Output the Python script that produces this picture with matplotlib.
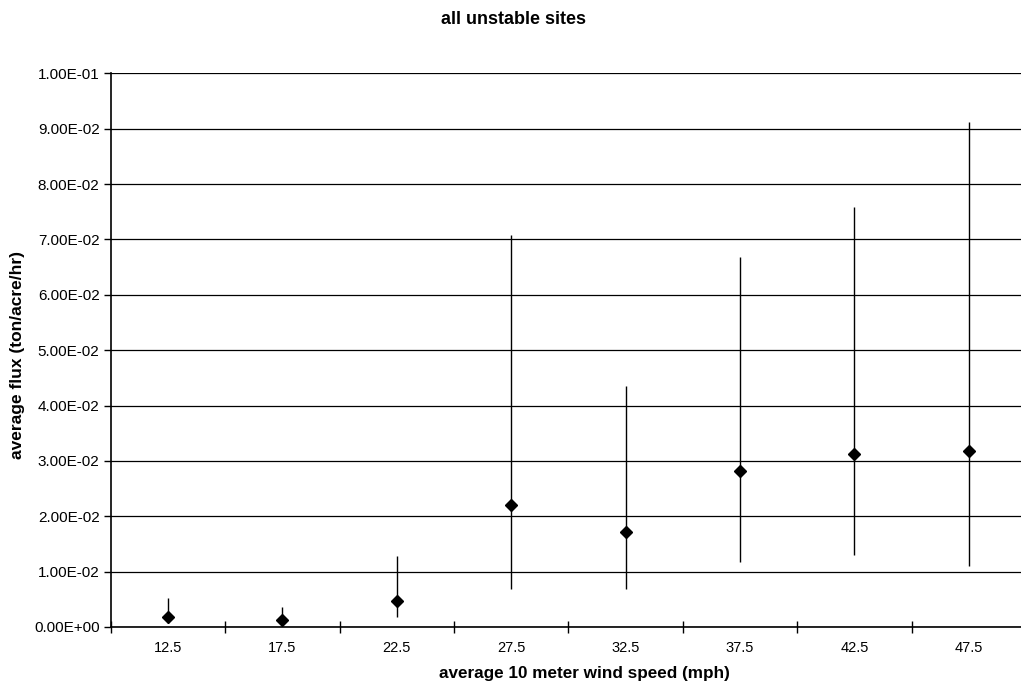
import numpy as np
import matplotlib
matplotlib.use("Agg")
import matplotlib.pyplot as plt
from matplotlib.ticker import FixedLocator, FuncFormatter

# wind speed bins and flux stats
speeds = ["12.5", "17.5", "22.5", "27.5", "32.5", "37.5", "42.5", "47.5"]
flux_mean = [0.0018, 0.00126, 0.0047, 0.0220, 0.0172, 0.0281, 0.0313, 0.0317]
flux_high = [0.0052, 0.0036, 0.0128, 0.0708, 0.0436, 0.0669, 0.0758, 0.0912]
flux_low = [0.0007, 0.0005, 0.00175, 0.0068, 0.0068, 0.0118, 0.0130, 0.0110]
y_ticks = [0.0, 0.01, 0.02, 0.03, 0.04, 0.05, 0.06, 0.07, 0.08, 0.09, 0.10]

plt.rcParams['font.family'] = ['Liberation Sans', 'DejaVu Sans']

fig = plt.figure(figsize=(10.21, 6.89), dpi=100)
ax = fig.add_axes([0.1084, 0.09, 0.8965, 0.8036])

x = np.arange(len(speeds))
mean = np.array(flux_mean)
yerr = [mean - np.array(flux_low), np.array(flux_high) - mean]

ax.errorbar(x, mean, yerr=yerr, fmt='D', color='black', ms=6.5,
            ecolor='black', elinewidth=1.0, capsize=0, zorder=3)

ax.set_xlim(-0.5, len(speeds) - 0.5)
ax.set_ylim(0, 0.1)

# y axis: Excel style scientific labels
ax.yaxis.set_major_locator(FixedLocator(y_ticks))
ax.yaxis.set_major_formatter(FuncFormatter(lambda v, p: "%.2E" % v))
ax.tick_params(axis='y', direction='out', length=5, width=1, labelsize=11, pad=3)
ax.grid(axis='y', color='black', linewidth=0.9)
ax.set_axisbelow(True)

# x axis: labels at centers, tick marks between categories
ax.set_xticks(x)
ax.set_xticklabels(speeds)
ax.set_xticks(np.arange(-0.5, len(speeds)), minor=True)
ax.tick_params(axis='x', which='major', length=0, labelsize=10.5, pad=10)
ax.tick_params(axis='x', which='minor', direction='inout', length=9, width=1)

for side in ['top', 'right']:
    ax.spines[side].set_visible(False)
for side in ['left', 'bottom']:
    ax.spines[side].set_linewidth(1.2)

ax.set_xlabel("average 10 meter wind speed (mph)", fontsize=12.3, fontweight='bold')
ax.xaxis.set_label_coords(0.518, -0.071)
ax.set_ylabel("average flux (ton/acre/hr)", fontsize=12.5, fontweight='bold')
ax.yaxis.set_label_coords(-0.094, 0.492)

fig.text(0.503, 1 - 19 / 689, "all unstable sites", ha='center', va='center',
         fontsize=13, fontweight='bold')

fig.savefig("out.png", dpi=100)
